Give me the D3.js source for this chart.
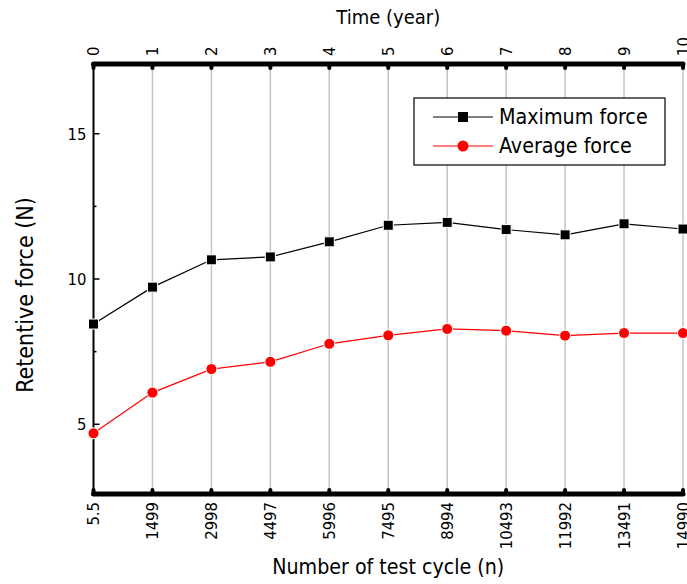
<!DOCTYPE html>
<html>
<head>
<meta charset="utf-8">
<script src="https://cdn.jsdelivr.net/npm/d3@7"></script>
<style>
  body { margin: 0; background: #fff; }
  svg { display: block; font-family: "DejaVu Sans Condensed", "DejaVu Sans", sans-serif; }
  .grid line { stroke: #c4c4c4; stroke-width: 1.5; }
</style>
</head>
<body>
<svg id="chart" width="687" height="584"></svg>
<script>
// tick labels of the two x axes
const years = [0, 1, 2, 3, 4, 5, 6, 7, 8, 9, 10];
const cycles = ["5.5", "1499", "2998", "4497", "5996", "7495", "8994", "10493", "11992", "13491", "14990"];

// series values (N)
const maxForce = [8.45, 9.72, 10.66, 10.76, 11.28, 11.85, 11.95, 11.70, 11.52, 11.90, 11.72];
const avgForce = [4.69, 6.09, 6.90, 7.15, 7.77, 8.06, 8.28, 8.22, 8.05, 8.14, 8.14];

const yMajor = [5, 10, 15];
const yMinor = [7.5, 12.5];

const margin = {left: 93.5, right: 4, top: 64, bottom: 90};
const width = 687, height = 584;

const svg = d3.select('#chart');

const x = d3.scaleLinear()
	.domain([0, 10])
	.range([margin.left, width - margin.right]);
const y = d3.scaleLinear()
	.domain([2.6, 17.4])
	.range([height - margin.bottom, margin.top]);

// vertical grid
svg.append('g').attr('class', 'grid')
	.selectAll('line')
	.data(years.slice(1))
	.join('line')
	.attr('x1', d => x(d)).attr('x2', d => x(d))
	.attr('y1', y.range()[1]).attr('y2', y.range()[0]);

// left axis
const yAxis = svg.append('g').attr('transform', `translate(${margin.left},0)`);
yAxis.append('line')
	.attr('x1', 0).attr('x2', 0)
	.attr('y1', y.range()[1]).attr('y2', y.range()[0])
	.attr('stroke', '#000').attr('stroke-width', 2);
yAxis.selectAll('.maj').data(yMajor).join('line')
	.attr('class', 'maj')
	.attr('x1', 0).attr('x2', 6)
	.attr('y1', d => y(d)).attr('y2', d => y(d))
	.attr('stroke', '#000').attr('stroke-width', 1.5);
yAxis.selectAll('.min').data(yMinor).join('line')
	.attr('class', 'min')
	.attr('x1', 0).attr('x2', 3)
	.attr('y1', d => y(d)).attr('y2', d => y(d))
	.attr('stroke', '#000').attr('stroke-width', 1.5);
yAxis.selectAll('text').data(yMajor).join('text')
	.attr('x', -7).attr('y', d => y(d))
	.attr('dy', '0.35em')
	.attr('text-anchor', 'end')
	.attr('font-size', 16.5)
	.text(d => d);

// thick top and bottom axes
const drawThick = (yPos, dir, labels, anchor, offset) => {
	const g = svg.append('g');
	g.append('line')
		.attr('x1', x(0)).attr('x2', x(10))
		.attr('y1', yPos).attr('y2', yPos)
		.attr('stroke', '#000').attr('stroke-width', 5)
		.attr('stroke-linecap', 'round');
	g.selectAll('line.tk').data(years).join('line')
		.attr('class', 'tk')
		.attr('x1', d => x(d)).attr('x2', d => x(d))
		.attr('y1', yPos).attr('y2', yPos + dir * 4)
		.attr('stroke', '#000').attr('stroke-width', 4)
		.attr('stroke-linecap', 'round');
	g.selectAll('text').data(labels).join('text')
		.attr('transform', (d, i) => `translate(${x(years[i])},${yPos + offset}) rotate(-90)`)
		.attr('dy', '0.35em')
		.attr('text-anchor', anchor)
		.attr('font-size', 16.5)
		.text(d => d);
};
drawThick(y.range()[1], 1, years, 'start', -8);
drawThick(y.range()[0], -1, cycles, 'end', 8);

// series
const line = d3.line()
	.x((d, i) => x(years[i]))
	.y(d => y(d));

svg.append('path').datum(maxForce)
	.attr('d', line).attr('fill', 'none')
	.attr('stroke', '#000').attr('stroke-width', 1.2);
svg.append('path').datum(avgForce)
	.attr('d', line).attr('fill', 'none')
	.attr('stroke', '#ff0000').attr('stroke-width', 1.2);

svg.append('g').selectAll('rect').data(maxForce).join('rect')
	.attr('x', (d, i) => x(years[i]) - 5)
	.attr('y', d => y(d) - 5)
	.attr('width', 10).attr('height', 10)
	.attr('fill', '#000').attr('stroke', '#fff').attr('stroke-width', 1);
svg.append('g').selectAll('circle').data(avgForce).join('circle')
	.attr('cx', (d, i) => x(years[i]))
	.attr('cy', d => y(d))
	.attr('r', 5.5)
	.attr('fill', '#ff0000').attr('stroke', '#fff').attr('stroke-width', 1);

// legend
const legend = svg.append('g').attr('transform', 'translate(414,98)');
legend.append('rect')
	.attr('width', 251).attr('height', 67)
	.attr('fill', '#fff').attr('stroke', '#000').attr('stroke-width', 1.2);
const items = [
	{name: 'Maximum force', color: '#000', shape: 'square'},
	{name: 'Average force', color: '#ff0000', shape: 'circle'}
];
items.forEach((it, i) => {
	const yy = 19 + i * 29;
	legend.append('line')
		.attr('x1', 19).attr('x2', 79)
		.attr('y1', yy).attr('y2', yy)
		.attr('stroke', it.color).attr('stroke-width', 1.2);
	if (it.shape === 'square') {
		legend.append('rect')
			.attr('x', 44).attr('y', yy - 5)
			.attr('width', 10).attr('height', 10)
			.attr('fill', it.color);
	} else {
		legend.append('circle')
			.attr('cx', 49).attr('cy', yy).attr('r', 5.5)
			.attr('fill', it.color);
	}
	legend.append('text')
		.attr('x', 85).attr('y', yy)
		.attr('dy', '0.35em')
		.attr('font-size', 21.3)
		.text(it.name);
});

// axis titles
svg.append('text')
	.attr('x', (x(0) + x(10)) / 2).attr('y', 17)
	.attr('dy', '0.35em')
	.attr('text-anchor', 'middle')
	.attr('font-size', 20)
	.text('Time (year)');
svg.append('text')
	.attr('x', (x(0) + x(10)) / 2).attr('y', 567)
	.attr('dy', '0.35em')
	.attr('text-anchor', 'middle')
	.attr('font-size', 21.2)
	.text('Number of test cycle (n)');
svg.append('text')
	.attr('transform', `translate(25,${(y.range()[0] + y.range()[1]) / 2 + 16}) rotate(-90)`)
	.attr('dy', '0.35em')
	.attr('text-anchor', 'middle')
	.attr('font-size', 23)
	.text('Retentive force (N)');
</script>
</body>
</html>
